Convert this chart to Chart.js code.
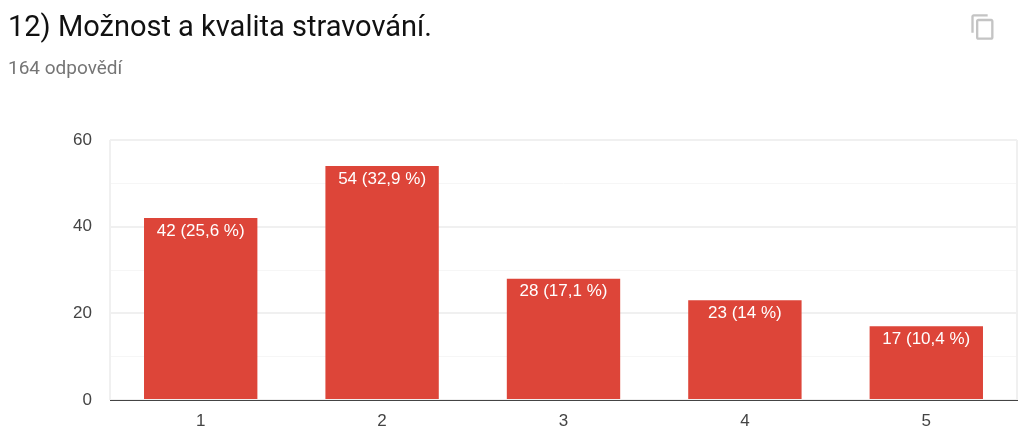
<!DOCTYPE html>
<html>
<head>
<meta charset="utf-8">
<title>Možnost a kvalita stravování</title>
<script src="https://cdn.jsdelivr.net/npm/chart.js@4"></script>
<style>
    html, body { margin: 0; padding: 0; background: #fff; overflow: hidden; }
    #wrap { position: relative; width: 1024px; height: 443px; }
    #chart { position: absolute; left: 0; top: 0; }
    #title { position: absolute; left: 8px; top: 9px; font: 29px Roboto, sans-serif; color: #111111; white-space: nowrap; }
    #subtitle { position: absolute; left: 8px; top: 56px; font: 19px Roboto, sans-serif; color: #757575; white-space: nowrap; }
    #copy { position: absolute; left: 969px; top: 13px; }
</style>
</head>
<body>
<div id="wrap">
    <canvas id="chart" width="1024" height="443"></canvas>
    <div id="title">12) Možnost a kvalita stravování.</div>
    <div id="subtitle">164 odpovědí</div>
    <svg id="copy" width="28" height="28" viewBox="0 0 24 24">
        <path fill="#c4c4c4" d="M16 1H4c-1.1 0-2 .9-2 2v14h2V3h12V1zm3 4H8c-1.1 0-2 .9-2 2v14c0 1.100.9 2 2 2h11c1.100 0 2-.9 2-2V7c0-1.100-.9-2-2-2zm0 16H8V7h11v14z"/>
    </svg>
</div>
<script>
const categories = ['1', '2', '3', '4', '5'];
const answers = [42, 54, 28, 23, 17];
const percents = ['25,6', '32,9', '17,1', '14', '10,4'];

// Light frame down both sides of the plot area
const plotFrame = {
    id: 'plotFrame',
    beforeDatasetsDraw(chart) {
        const { ctx, chartArea } = chart;
        ctx.save();
        ctx.strokeStyle = '#f0f0f0';
        ctx.lineWidth = 2;
        [chartArea.left, chartArea.right].forEach(x => {
            ctx.beginPath();
            ctx.moveTo(x, chartArea.top);
            ctx.lineTo(x, chartArea.bottom);
            ctx.stroke();
        });
        ctx.restore();
    }
};

// Writes "count (percent %)" just inside the top of each bar
const barLabels = {
    id: 'barLabels',
    afterDatasetsDraw(chart) {
        const ctx = chart.ctx;
        ctx.save();
        ctx.fillStyle = '#ffffff';
        ctx.font = '17px "Liberation Sans", Arial, sans-serif';
        ctx.textAlign = 'center';
        ctx.textBaseline = 'middle';
        chart.getDatasetMeta(0).data.forEach((bar, i) => {
            ctx.fillText(`${answers[i]} (${percents[i]} %)`, bar.x, bar.y + 13);
        });
        ctx.restore();
    }
};

new Chart(document.getElementById('chart').getContext('2d'), {
    type: 'bar',
    data: {
        labels: categories,
        datasets: [{
            data: answers,
            backgroundColor: '#dd4539',
            categoryPercentage: 1,
            barPercentage: 0.625
        }]
    },
    options: {
        responsive: false,
        animation: false,
        layout: { padding: { top: 140, right: 7, bottom: 0, left: 0 } },
        plugins: {
            legend: { display: false },
            title: { display: false },
            tooltip: { enabled: false }
        },
        scales: {
            x: {
                afterFit(scale) { scale.height = 43; },
                grid: { display: false },
                border: { color: '#444444', width: 1 },
                ticks: {
                    color: '#444444',
                    font: { family: '"Liberation Sans", Arial, sans-serif', size: 17 },
                    padding: 3,
                    maxRotation: 0
                }
            },
            y: {
                min: 0,
                max: 60,
                afterFit(scale) { scale.width = 110; },
                border: { display: false },
                grid: {
                    drawTicks: false,
                    color: ctx => ctx.tick.value % 20 === 0 ? '#f0f0f0' : '#f6f6f6',
                    lineWidth: ctx => ctx.tick.value % 20 === 0 ? 2 : 1
                },
                ticks: {
                    stepSize: 10,
                    padding: 18,
                    color: '#444444',
                    font: { family: '"Liberation Sans", Arial, sans-serif', size: 17 },
                    callback: value => value % 20 === 0 ? value : ''
                }
            }
        }
    },
    plugins: [plotFrame, barLabels]
});
</script>
</body>
</html>
